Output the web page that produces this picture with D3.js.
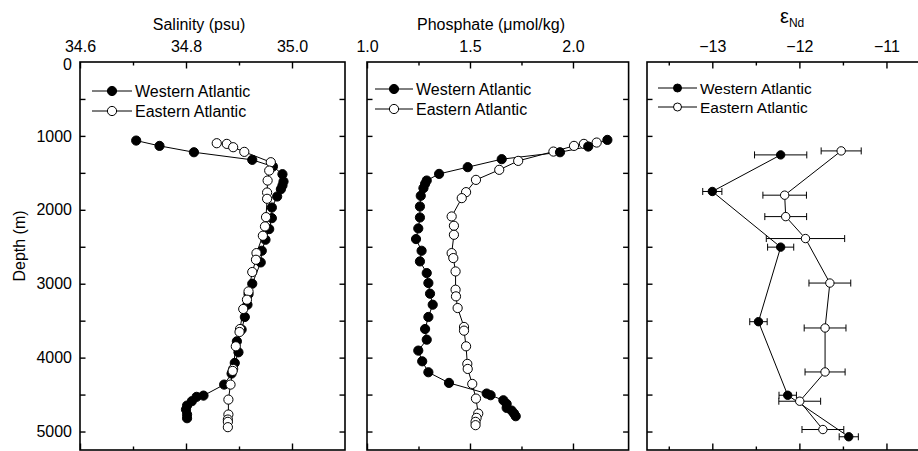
<!DOCTYPE html>
<html lang="en">
<head>
<meta charset="utf-8">
<script src="https://cdn.jsdelivr.net/npm/d3@7"></script>
<style>
  body { margin: 0; background: #fff; }
  svg { display: block; font-family: "Liberation Sans", Arial, sans-serif; }
  .frame { fill: none; stroke: #000; stroke-width: 1.6; }
  .axis path { display: none; }
  .axis line { stroke: #000; stroke-width: 1.4; }
  .axis text { font-size: 16px; fill: #000; font-family: "Liberation Sans", Arial, sans-serif; }
  .series { fill: none; stroke: #000; stroke-width: 1; }
  .err { stroke: #000; stroke-width: 1; }
</style>
</head>
<body>
<div id="chart"></div>
<script>
// depth axis (shared by all three panels)
var depthTicks  = [0, 500, 1000, 1500, 2000, 2500, 3000, 3500, 4000, 4500, 5000];
var depthLabels = [0, 1000, 2000, 3000, 4000, 5000];

// salinity, [psu, depth m]
var salWest = [[34.706,1063],[34.750,1135],[34.815,1221],[34.925,1324],[34.964,1414],[34.982,1518],
  [34.984,1617],[34.982,1671],[34.979,1721],[34.972,1820],[34.962,1969],[34.962,2113],[34.957,2261],
  [34.950,2405],[34.943,2554],[34.941,2712],[34.925,3000],[34.918,3140],[34.916,3284],[34.911,3450],
  [34.905,3620],[34.896,3779],[34.899,3928],[34.892,4072],[34.886,4216],[34.872,4365],[34.833,4514],
  [34.820,4531],[34.811,4590],[34.802,4649],[34.800,4703],[34.802,4770],[34.802,4820]];
var salEast = [[34.858,1099],[34.877,1108],[34.889,1153],[34.910,1216],[34.960,1356],[34.957,1469],
  [34.954,1604],[34.953,1766],[34.953,1851],[34.951,2099],[34.949,2225],[34.945,2351],[34.933,2586],
  [34.932,2676],[34.925,2842],[34.918,3104],[34.915,3216],[34.908,3342],[34.902,3613],[34.901,3653],
  [34.894,3847],[34.889,4153],[34.888,4180],[34.884,4365],[34.880,4568],[34.880,4770],[34.879,4838],
  [34.879,4869],[34.879,4941]];

// phosphate, [umol/kg, depth m]
var phoWest = [[2.167,1054],[2.074,1144],[1.937,1221],[1.654,1315],[1.489,1423],[1.350,1514],
  [1.290,1604],[1.282,1649],[1.274,1707],[1.261,1811],[1.257,1955],[1.257,2104],[1.249,2252],
  [1.238,2396],[1.265,2554],[1.257,2698],[1.290,2856],[1.298,2991],[1.306,3135],[1.319,3284],
  [1.298,3450],[1.282,3613],[1.290,3757],[1.249,3905],[1.268,4050],[1.298,4198],[1.398,4342],
  [1.581,4486],[1.600,4509],[1.662,4577],[1.678,4626],[1.678,4680],[1.702,4716],[1.714,4757],
  [1.722,4793]];
var phoEast = [[2.115,1090],[2.053,1108],[2.005,1135],[1.905,1212],[1.734,1338],[1.642,1459],
  [1.529,1595],[1.481,1761],[1.460,1842],[1.411,2090],[1.422,2216],[1.422,2338],[1.411,2586],
  [1.419,2653],[1.430,2834],[1.430,3081],[1.432,3171],[1.440,3329],[1.471,3585],[1.471,3635],
  [1.481,3847],[1.487,4085],[1.489,4153],[1.511,4356],[1.529,4554],[1.540,4757],[1.532,4815],
  [1.527,4869],[1.527,4914]];

// eNd, [value, depth m, error]
var ndWest = [[-12.215,1257,0.30],[-13.00,1752,0.11],[-12.215,2505,0.15],[-12.47,3514,0.10],
  [-12.134,4509,0.10],[-11.433,5071,0.11]];
var ndEast = [[-11.52,1203,0.23],[-12.169,1802,0.25],[-12.157,2092,0.24],[-11.93,2389,0.45],
  [-11.65,2991,0.24],[-11.705,3599,0.24],[-11.705,4194,0.23],[-11.996,4590,0.24],[-11.73,4973,0.24]];

// x tick values
var salMajor = [34.6, 34.8, 35.0], salMinor = [34.7, 34.9];
var phoMajor = [1.0, 1.5, 2.0],    phoMinor = [1.25, 1.75];
var ndMajor  = [-13, -12, -11],    ndMinor  = [-13.5, -12.5, -11.5];

var W = 918, H = 451;
var top0 = 62, bot0 = 450;

var svg = d3.select("#chart").append("svg")
  .attr("width", W).attr("height", H);

var y = d3.scaleLinear().domain([0, 5250]).range([top0, bot0]);

var panels = [
  { x0: 80,  x1: 345, dom: [34.6, 35.1], major: salMajor, minor: salMinor, fmt: d3.format(".1f"),
    west: salWest, east: salEast, eastOnTop: true, r: 4.6, title: "Salinity (psu)", tx: 199,
    leg: { x: 92, y1: 91, y2: 111, len: 40, r: 4.6, fs: 16 }, yLabels: true },
  { x0: 367, x1: 628.6, dom: [1.0, 2.27], major: phoMajor, minor: phoMinor, fmt: d3.format(".1f"),
    west: phoWest, east: phoEast, eastOnTop: false, r: 4.6, title: "Phosphate (\u03bcmol/kg)", tx: 491,
    leg: { x: 375, y1: 89, y2: 109, len: 38, r: 4.6, fs: 16 } },
  { x0: 647, x1: 930, dom: [-13.75, -10.5], major: ndMajor, minor: ndMinor, fmt: d3.format("d"),
    west: ndWest, east: ndEast, eastOnTop: true, r: 4.2, err: true,
    leg: { x: 658, y1: 88, y2: 107, len: 39, r: 4, fs: 15.5 } }
];

panels.forEach(function(p) {
  var x = d3.scaleLinear().domain(p.dom).range([p.x0, p.x1]);
  var g = svg.append("g");

  // top axis: labelled major ticks + short minor ticks, all pointing inwards
  g.append("g").attr("class", "axis").attr("transform", "translate(0," + top0 + ")")
    .call(d3.axisTop(x).tickValues(p.major).tickSizeInner(-6.5).tickSizeOuter(0)
      .tickPadding(10).tickFormat(p.fmt))
    .selectAll("text").attr("dy", "0");
  g.append("g").attr("class", "axis").attr("transform", "translate(0," + top0 + ")")
    .call(d3.axisTop(x).tickValues(p.minor).tickSizeInner(-3.5).tickSizeOuter(0).tickFormat(""));
  // bottom axis
  g.append("g").attr("class", "axis").attr("transform", "translate(0," + bot0 + ")")
    .call(d3.axisBottom(x).tickValues(p.major).tickSizeInner(-6.5).tickSizeOuter(0).tickFormat(""));
  g.append("g").attr("class", "axis").attr("transform", "translate(0," + bot0 + ")")
    .call(d3.axisBottom(x).tickValues(p.minor).tickSizeInner(-3.5).tickSizeOuter(0).tickFormat(""));
  // left / right depth ticks
  g.append("g").attr("class", "axis").attr("transform", "translate(" + p.x0 + ",0)")
    .call(d3.axisLeft(y).tickValues(depthTicks.slice(1)).tickSizeInner(-5.5).tickSizeOuter(0).tickFormat(""));
  g.append("g").attr("class", "axis").attr("transform", "translate(" + p.x1 + ",0)")
    .call(d3.axisRight(y).tickValues(depthTicks.slice(1)).tickSizeInner(-5.5).tickSizeOuter(0).tickFormat(""));

  if (p.yLabels) {
    var yl = g.append("g").attr("class", "axis").attr("transform", "translate(" + p.x0 + ",0)")
      .call(d3.axisLeft(y).tickValues(depthLabels).tickSize(0).tickPadding(8).tickFormat(d3.format("d")));
    // nudge the "0" a touch down so it clears the 34.6 label
    yl.selectAll("text").filter(function(d) { return d === 0; }).attr("dy", "0.45em");
  }

  // frame
  g.append("rect").attr("class", "frame")
    .attr("x", p.x0).attr("y", top0)
    .attr("width", p.x1 - p.x0).attr("height", bot0 - top0);

  // title
  if (p.title) {
    g.append("text").attr("x", p.tx).attr("y", 30).attr("text-anchor", "middle")
      .attr("font-size", 16).text(p.title);
  } else {
    var t = g.append("text").attr("x", 780).attr("y", 23);
    t.append("tspan").attr("font-size", 20).text("\u03b5");
    t.append("tspan").attr("font-size", 12).attr("dy", 4).text("Nd");
  }

  var line = d3.line().x(function(d) { return x(d[0]); }).y(function(d) { return y(d[1]); });

  // error bars
  if (p.err) {
    [p.west, p.east].forEach(function(s) {
      var eg = g.append("g");
      eg.selectAll(".h").data(s).enter().append("line").attr("class", "err")
        .attr("x1", function(d) { return x(d[0] - d[2]); })
        .attr("x2", function(d) { return x(d[0] + d[2]); })
        .attr("y1", function(d) { return y(d[1]); })
        .attr("y2", function(d) { return y(d[1]); });
      [-1, 1].forEach(function(sg) {
        eg.selectAll(".c" + sg).data(s).enter().append("line").attr("class", "err")
          .attr("x1", function(d) { return x(d[0] + sg * d[2]); })
          .attr("x2", function(d) { return x(d[0] + sg * d[2]); })
          .attr("y1", function(d) { return y(d[1]) - 3.5; })
          .attr("y2", function(d) { return y(d[1]) + 3.5; });
      });
    });
  }

  g.append("path").datum(p.west).attr("class", "series").attr("d", line);
  g.append("path").datum(p.east).attr("class", "series").attr("d", line);

  function dots(s, fill) {
    g.append("g").selectAll("circle").data(s).enter().append("circle")
      .attr("cx", function(d) { return x(d[0]); })
      .attr("cy", function(d) { return y(d[1]); })
      .attr("r", p.r)
      .attr("fill", fill).attr("stroke", "#000").attr("stroke-width", 1);
  }
  if (p.eastOnTop) { dots(p.west, "#000"); dots(p.east, "#fff"); }
  else { dots(p.east, "#fff"); dots(p.west, "#000"); }

  // legend
  var L = p.leg;
  [[L.y1, "#000", "Western Atlantic"], [L.y2, "#fff", "Eastern Atlantic"]].forEach(function(it) {
    g.append("line").attr("x1", L.x).attr("x2", L.x + L.len)
      .attr("y1", it[0]).attr("y2", it[0]).attr("stroke", "#000").attr("stroke-width", 1);
    g.append("circle").attr("cx", L.x + L.len / 2).attr("cy", it[0]).attr("r", L.r)
      .attr("fill", it[1]).attr("stroke", "#000").attr("stroke-width", 1);
    g.append("text").attr("x", L.x + L.len + 3).attr("y", it[0] + 5.5)
      .attr("font-size", L.fs).text(it[2]);
  });
});

// depth label
svg.append("text")
  .attr("transform", "translate(25,246) rotate(-90)")
  .attr("text-anchor", "middle").attr("font-size", 16)
  .text("Depth (m)");
</script>
</body>
</html>
